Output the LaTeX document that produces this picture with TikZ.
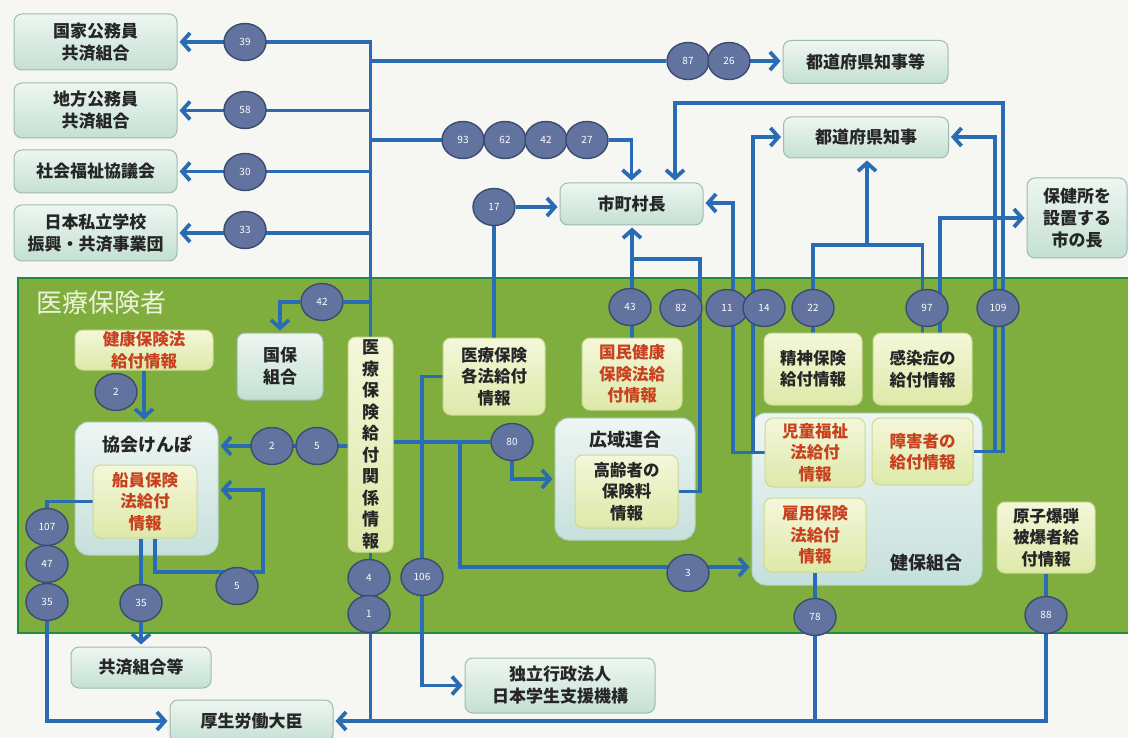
\documentclass[tikz,border=0pt]{standalone}
\usepackage{fontspec}
\setmainfont{Noto Sans CJK JP}
\usetikzlibrary{arrows.meta,calc,shapes.geometric}
\pgfdeclarelayer{back}\pgfdeclarelayer{cont}\pgfdeclarelayer{lines}
\pgfsetlayers{back,cont,lines,main}
\definecolor{bgc}{HTML}{F6F6F3}
\definecolor{panelf}{HTML}{80AE3E}
\definecolor{paneld}{HTML}{1E8C3C}
\definecolor{linec}{HTML}{2A6CB4}
\definecolor{numf}{HTML}{61739E}
\definecolor{numd}{HTML}{3C4C70}
\definecolor{oboxt}{HTML}{EEF6F1}
\definecolor{oboxb}{HTML}{C4E0D3}
\definecolor{oboxd}{HTML}{9DBCAE}
\definecolor{yboxt}{HTML}{F4F7DA}
\definecolor{yboxb}{HTML}{DDE9A8}
\definecolor{yboxd}{HTML}{CBDA92}
\definecolor{cboxt}{HTML}{EEF6F4}
\definecolor{cboxb}{HTML}{C6E0DC}
\definecolor{cboxd}{HTML}{B3D2CC}
\definecolor{redtx}{HTML}{C8401E}
\definecolor{titlec}{HTML}{EEF2DD}
\tikzset{
  x=1pt,y=-1pt,
  obox/.style={draw=oboxd, line width=1pt, rounded corners=8pt, top color=oboxt, bottom color=oboxb, align=center, font=\bfseries\fontsize{17}{22}\selectfont, inner sep=0pt, text=black!85},
  ybox/.style={draw=yboxd, line width=1pt, rounded corners=8pt, top color=yboxt, bottom color=yboxb, align=center, font=\bfseries\fontsize{16.5}{21.5}\selectfont, inner sep=0pt, text=black!85},
  redt/.style={text=redtx},
  cbox/.style={draw=cboxd, line width=1pt, rounded corners=14pt, top color=cboxt, bottom color=cboxb, inner sep=0pt},
  ctitle/.style={font=\bfseries\fontsize{18}{22}\selectfont, text=black!85, inner sep=0pt},
  num/.style={ellipse, draw=numd, line width=1.4pt, fill=numf, minimum width=42pt, minimum height=37pt, inner sep=0pt, text=white, font=\fontsize{10}{10}\selectfont},
  conn/.style={draw=linec, line width=3.8pt},
  arr/.style={conn, -{Straight Barb[length=8pt,width=18pt]}, shorten >=2pt},
}
\begin{document}
\begin{tikzpicture}
\useasboundingbox (0,0) rectangle (1128,738);
\begin{pgfonlayer}{back}
  \fill[bgc] (0,0) rectangle (1128,738);
  \draw[fill=panelf, draw=paneld, line width=2.5pt] (18,278) rectangle (1140,633);
\end{pgfonlayer}
\node[font=\fontsize{26}{26}\selectfont, text=titlec, inner sep=0pt] (title) at (101,303) {医療保険者};

% outside boxes
\node[obox, minimum width=163pt, minimum height=56pt] (kokka) at (95.5,42) {国家公務員\\共済組合};
\node[obox, minimum width=163pt, minimum height=55pt] (chihou) at (95.5,110.5) {地方公務員\\共済組合};
\node[obox, minimum width=163pt, minimum height=43pt] (shakai) at (95.5,171.5) {社会福祉協議会};
\node[obox, minimum width=163pt, minimum height=56pt] (shiritsu) at (95.5,233) {日本私立学校\\振興・共済事業団};
\node[obox, minimum width=165pt, minimum height=43pt] (todoufukenra) at (865.5,62) {都道府県知事等};
\node[obox, minimum width=165pt, minimum height=41pt] (todoufuken) at (866,137.5) {都道府県知事};
\node[obox, minimum width=143pt, minimum height=42pt] (shichouson) at (631.5,204) {市町村長};
\node[obox, minimum width=100pt, minimum height=80pt] (hokenjo) at (1077,218) {保健所を\\設置する\\市の長};
\node[obox, minimum width=140pt, minimum height=41pt] (kyousai) at (141,667.5) {共済組合等};
\node[obox, minimum width=163pt, minimum height=42pt] (kousei) at (251.5,721) {厚生労働大臣};
\node[obox, minimum width=190pt, minimum height=55pt] (dokuritsu) at (560,685.5) {独立行政法人\\日本学生支援機構};

% containers
\begin{pgfonlayer}{cont}
  \node[cbox, minimum width=143pt, minimum height=133pt] (kyoukai) at (146.5,488.5) {};
  \node[cbox, minimum width=140pt, minimum height=122pt] (kouiki) at (625,479) {};
  \node[cbox, minimum width=230pt, minimum height=172pt] (kenpo) at (867,499) {};
\end{pgfonlayer}
\node[ctitle] (kyoukaiT) at (147,445) {協会けんぽ};
\node[ctitle] (kouikiT) at (625,440) {広域連合};
\node[ctitle] (kenpoT) at (926,563) {健保組合};

% inner boxes
\node[obox, minimum width=86pt, minimum height=67pt] (kokuho) at (280,366.5) {国保\\組合};
\node[ybox, redt, minimum width=138pt, minimum height=40pt] (kenkouhou) at (144,350) {健康保険法\\給付情報};
\node[ybox, redt, minimum width=104pt, minimum height=73pt] (senin) at (145,501.5) {船員保険\\法給付\\情報};
\node[ybox, minimum width=45pt, minimum height=215pt, font=\bfseries\fontsize{17}{21.5}\selectfont] (vbox) at (370.5,444.5) {医\\療\\保\\険\\給\\付\\関\\係\\情\\報};
\node[ybox, minimum width=102pt, minimum height=77pt] (kakuhou) at (494,376.5) {医療保険\\各法給付\\情報};
\node[ybox, redt, minimum width=100pt, minimum height=72pt] (kokumin) at (632,374) {国民健康\\保険法給\\付情報};
\node[ybox, minimum width=103pt, minimum height=73pt] (koureisha) at (626.5,491.5) {高齢者の\\保険料\\情報};
\node[ybox, minimum width=98pt, minimum height=72pt] (seishin) at (813,369) {精神保険\\給付情報};
\node[ybox, minimum width=99pt, minimum height=72pt] (kansen) at (922.5,369) {感染症の\\給付情報};
\node[ybox, redt, minimum width=100pt, minimum height=69pt] (jidou) at (815,452.5) {児童福祉\\法給付\\情報};
\node[ybox, redt, minimum width=101pt, minimum height=67pt] (shougai) at (922.5,451.5) {障害者の\\給付情報};
\node[ybox, redt, minimum width=102pt, minimum height=74pt] (koyou) at (815,535) {雇用保険\\法給付\\情報};
\node[ybox, minimum width=98pt, minimum height=71pt] (genshi) at (1046,537.5) {原子爆弾\\被爆者給\\付情報};

% number circles
\node[num] (c39) at (245,42) {39};
\node[num] (c58) at (245,110) {58};
\node[num] (c30) at (245,172) {30};
\node[num] (c33) at (245,230) {33};
\node[num] (c87) at (688,61) {87};
\node[num] (c26) at (729,61) {26};
\node[num] (c93) at (463,140) {93};
\node[num] (c62) at (505,140) {62};
\node[num] (c42a) at (546,140) {42};
\node[num] (c27) at (587,140) {27};
\node[num] (c17) at (494,207) {17};
\node[num] (c42b) at (322,302) {42};
\node[num] (c43) at (630,307) {43};
\node[num] (c82) at (681,308) {82};
\node[num] (c11) at (727,308) {11};
\node[num] (c14) at (764,308) {14};
\node[num] (c22) at (813,308) {22};
\node[num] (c97) at (927,308) {97};
\node[num] (c109) at (998,308) {109};
\node[num] (c2a) at (116,392) {2};
\node[num] (c2b) at (272,446) {2};
\node[num] (c5a) at (317,446) {5};
\node[num] (c80) at (512,442) {80};
\node[num] (c107) at (47,527) {107};
\node[num] (c47) at (47,564) {47};
\node[num] (c35a) at (47,602) {35};
\node[num] (c35b) at (141,603) {35};
\node[num] (c5b) at (237,586) {5};
\node[num] (c4) at (369,578) {4};
\node[num] (c1) at (369,614) {1};
\node[num] (c106) at (422,577) {106};
\node[num] (c3) at (688,573) {3};
\node[num] (c78) at (815,617) {78};
\node[num] (c88) at (1046,615) {88};

% connectors
\coordinate (j3) at (460,443);
\coordinate (p3) at (460,567);
\coordinate (r82) at (700,259);
\coordinate (p11) at (733,203);
\coordinate (p14) at (753,137);
\coordinate (m) at (867,245);
\coordinate (p97) at (940,218);
\coordinate (q1) at (995,137);
\coordinate (q2) at (1003,103);
\coordinate (q3) at (675,103);
\coordinate (p5s) at (155,0);
\coordinate (p5) at (263,572);
\coordinate (p5b) at (263,490);
\begin{pgfonlayer}{lines}
  \draw[arr] (vbox.north) |- (kokka.east);
  \draw[arr] (vbox.north) |- (chihou.east);
  \draw[arr] (vbox.north) |- (shakai.east);
  \draw[arr] (vbox.north) |- (shiritsu.east);
  \draw[arr] (vbox.north) |- (c87) -- (todoufukenra.west |- c87);
  \draw[arr] (vbox.north) |- (c27) -| (shichouson.north);
  \draw[arr] (vbox.north) |- (c42b) -| (kokuho.north);
  \draw[arr] (kenkouhou.south) -- (kenkouhou.south |- kyoukai.north);
  \draw[arr] (vbox.west |- c5a) -- (kyoukai.east |- c5a);
  \draw[arr] (vbox.east |- c80) -- (c80) |- (kouiki.west);
  \draw[arr] (j3) -- (p3) -- (p3 -| kenpo.west);
  \draw[arr] (kakuhou.west) -| (c106) |- (dokuritsu.west);
  \draw[arr] (kakuhou.north) -- (c17) -- (shichouson.west |- c17);
  \draw[arr] (kokumin.north) -- (shichouson.south -| kokumin.north);
  \draw[conn] (koureisha.east) -| (r82) -- (r82 -| kokumin.north);
  \draw[arr] (jidou.west) -| (p11) -- (p11 -| shichouson.east);
  \draw[arr] (jidou.west) -| (p14) -- (p14 -| todoufuken.west);
  \draw[conn] (seishin.north) |- (m);
  \draw[conn] (kansen.north) |- (m);
  \draw[arr] (m) -- (m |- todoufuken.south);
  \draw[arr] (kansen.north -| p97) -- (p97) -- (p97 -| hokenjo.west);
  \draw[arr] (shougai.east) -| (q1) -- (q1 -| todoufuken.east);
  \draw[arr] (shougai.east) -| (q2) -- (q3) -- (q3 |- shichouson.north);
  \draw[conn] (koyou.south) -- (koyou.south |- kousei.east);
  \draw[arr] (genshi.south) |- (kousei.east);
  \draw[conn] (vbox.south) -- (vbox.south |- kousei.east);
  \draw[arr] (senin.west) -| (c35a) |- (kousei.west);
  \draw[arr] (senin.south -| c35b) -- (kyousai.north -| c35b);
  \draw[arr] (senin.south -| p5s) |- (p5) -- (p5b) -- (p5b -| kyoukai.east);
\end{pgfonlayer}
\end{tikzpicture}
\end{document}
